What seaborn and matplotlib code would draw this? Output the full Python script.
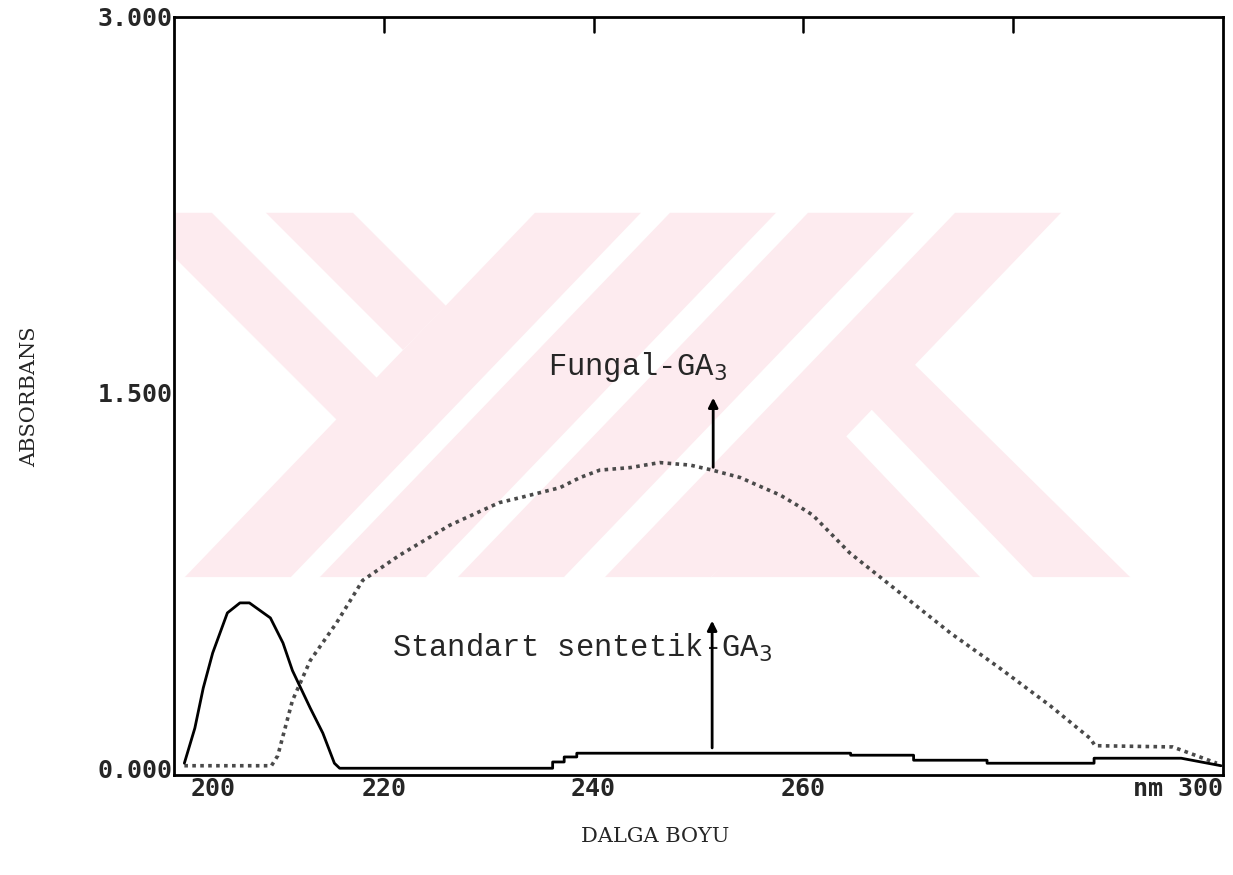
import matplotlib
matplotlib.use('Agg')
import pandas as pd
import matplotlib.pyplot as plt
import seaborn as sns
from matplotlib.patches import Polygon

# wavelength (nm) / absorbance
fungal_nm = [201.0, 209.3, 209.9, 211.3, 213.0, 215.5, 218.0, 221.5, 226.3, 231.0,
             233.0, 234.9, 236.8, 238.7, 240.6, 243.5, 246.3, 249.2, 251.3, 254.0,
             255.6, 257.8, 259.4, 260.9, 264.4, 269.2, 274.0, 278.7, 283.5, 287.3,
             287.8, 295.2, 299.4]
fungal_abs = [0.01, 0.01, 0.05, 0.27, 0.43, 0.58, 0.75, 0.85, 0.97, 1.06,
              1.08, 1.10, 1.12, 1.16, 1.19, 1.20, 1.22, 1.21, 1.19, 1.16,
              1.13, 1.09, 1.05, 1.01, 0.86, 0.70, 0.54, 0.40, 0.25, 0.12,
              0.09, 0.085, 0.02]

standard_nm = [201.0, 202.0, 202.8, 203.7, 205.1, 206.3, 207.2, 208.2, 209.2, 210.4,
               211.3, 213.0, 214.2, 215.3, 215.8, 236.1, 236.1, 237.2, 237.2, 238.4,
               238.4, 264.5, 264.5, 270.5, 270.5, 277.5, 277.5, 287.7, 287.7, 296.0,
               299.8]
standard_abs = [0.02, 0.16, 0.32, 0.46, 0.62, 0.66, 0.66, 0.63, 0.60, 0.50,
                0.39, 0.24, 0.14, 0.02, 0.0, 0.0, 0.025, 0.025, 0.045, 0.045,
                0.06, 0.06, 0.052, 0.052, 0.032, 0.032, 0.02, 0.02, 0.04, 0.04,
                0.01]

x_ticks = [200, 220, 240, 260, 300]
x_ticklabels = ['200', '220', '240', '260', 'nm 300']
y_ticks = [0.0, 1.5, 3.0]
y_ticklabels = ['0.000', '1.500', '3.000']
top_ticks = [220, 240, 260, 280]

fungal_df = pd.DataFrame({'nm': fungal_nm, 'abs': fungal_abs})
standard_df = pd.DataFrame({'nm': standard_nm, 'abs': standard_abs})

sns.set_style('white')
plt.rcParams['font.family'] = ['DejaVu Sans']

fig = plt.figure(figsize=(12.33, 8.75), dpi=100)
ax = fig.add_axes([0.141, 0.114, 0.851, 0.867])

# pale watermark behind the plot, outlined in pixels of the 1233x875 page
def frame_frac(pts):
    return [((px - 174) / 1049, (775 - py) / 758) for px, py in pts]

watermark = [
    [(130, 213), (212, 213), (377, 378), (337, 420)],
    [(266, 213), (353, 213), (446, 306), (403, 350)],
    [(535, 213), (641, 213), (291, 577), (185, 577)],
    [(670, 213), (776, 213), (426, 577), (320, 577)],
    [(808, 213), (914, 213), (564, 577), (458, 577)],
    [(955, 213), (1061, 213), (711, 577), (605, 577)],
    [(843, 433), (980, 577), (711, 577)],
    [(913, 363), (1130, 577), (1033, 577), (870, 408)],
]
for pts in watermark:
    ax.add_patch(Polygon(frame_frac(pts), closed=True, transform=ax.transAxes,
                         facecolor='#fdebef', edgecolor='none', zorder=0))

sns.lineplot(data=fungal_df, x='nm', y='abs', ax=ax, color='#4a4a4a',
             linewidth=2.6, linestyle=(0, (1, 1.2)), sort=False,
             estimator=None, zorder=3)
sns.lineplot(data=standard_df, x='nm', y='abs', ax=ax, color='black',
             linewidth=2.0, sort=False, estimator=None, zorder=4)

ax.set_xlim(200, 300)
ax.set_ylim(-0.028, 3.0)

tick_font = dict(fontfamily='DejaVu Sans Mono', fontweight='bold', fontsize=18)

# first label sits a bit inside the frame, so draw it on its own
ax.set_xticks(x_ticks)
ax.set_xticklabels([''] + x_ticklabels[1:], **tick_font)
ax.get_xticklabels()[-1].set_ha('right')
ax.annotate(x_ticklabels[0], xy=(x_ticks[0], 0), xycoords=('data', 'axes fraction'),
            xytext=(12, -1), textcoords='offset points', ha='left', va='top',
            **tick_font)
ax.set_yticks(y_ticks)
ax.set_yticklabels(y_ticklabels, **tick_font)
ax.tick_params(axis='x', length=0, pad=1)
ax.tick_params(axis='y', length=0, pad=1)

# short inner ticks hanging from the top edge
for t in top_ticks:
    ax.plot([t, t], [3.0, 2.94], color='black', linewidth=1.8, zorder=5)

for s in ax.spines.values():
    s.set_color('black')
    s.set_linewidth(2.0)

ax.set_xlabel('')
ax.set_ylabel('')
fig.text(0.024, 1 - 397 / 875, 'ABSORBANS', rotation=90, ha='center',
         va='center', fontfamily='DejaVu Serif', fontsize=15)
fig.text(655 / 1233, 1 - 836 / 875, 'DALGA BOYU', ha='center', va='center',
         fontfamily='DejaVu Serif', fontsize=15)

ax.text(235.7, 1.60, 'Fungal-GA$_3$', fontfamily='Liberation Mono',
        fontsize=22, va='center', ha='left', zorder=6)
ax.annotate('', xy=(251.4, 1.49), xytext=(251.4, 1.19),
            arrowprops=dict(arrowstyle='-|>', color='black', lw=2,
                            mutation_scale=14), zorder=6)
ax.text(220.8, 0.48, 'Standart sentetik-GA$_3$', fontfamily='Liberation Mono',
        fontsize=22, va='center', ha='left', zorder=6)
ax.annotate('', xy=(251.3, 0.60), xytext=(251.3, 0.07),
            arrowprops=dict(arrowstyle='-|>', color='black', lw=2,
                            mutation_scale=14), zorder=6)

fig.savefig('out.png', dpi=100)
